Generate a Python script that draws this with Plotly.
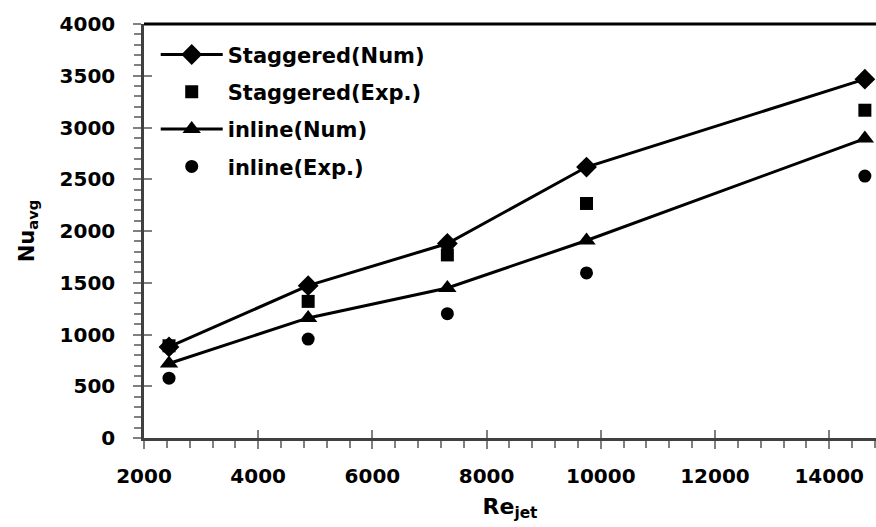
import plotly.graph_objects as go

re_jet = [2438, 4875, 7313, 9750, 14625]
stag_num = [880, 1472, 1879, 2618, 3467]
stag_exp = [891, 1320, 1769, 2266, 3167]
inl_num = [720, 1160, 1450, 1908, 2893]
inl_exp = [578, 956, 1201, 1595, 2531]

FONT = "DejaVu Sans"
fig = go.Figure()
fig.add_trace(go.Scatter(x=re_jet, y=stag_num, mode="lines+markers", name="<b>Staggered(Num)</b>",
                         line=dict(color="black", width=3),
                         marker=dict(symbol="diamond", size=16, color="black"), legendgroup="a"))
fig.add_trace(go.Scatter(x=re_jet, y=stag_exp, mode="markers", name="<b>Staggered(Exp.)</b>",
                         marker=dict(symbol="square", size=13, color="black"), legendgroup="b"))
fig.add_trace(go.Scatter(x=re_jet, y=inl_num, mode="lines+markers", name="<b>inline(Num)</b>",
                         line=dict(color="black", width=3),
                         marker=dict(symbol="triangle-up", size=16, color="black"), legendgroup="c"))
fig.add_trace(go.Scatter(x=re_jet, y=inl_exp, mode="markers", name="<b>inline(Exp.)</b>",
                         marker=dict(symbol="circle", size=13, color="black"), legendgroup="d"))
# invisible trace for overlay axes (inside major ticks)
fig.add_trace(go.Scatter(x=[re_jet[0]], y=[stag_num[0]], xaxis="x2", yaxis="y2", mode="markers",
                         marker=dict(opacity=0), showlegend=False, hoverinfo="skip"))

XR = [2000, 14820]
YR = [0, 4000]
tickfont = dict(family=FONT, size=20, color="black", weight="bold")
fig.update_layout(
    width=876, height=527,
    margin=dict(l=144, r=0, t=24, b=89),
    plot_bgcolor="white", paper_bgcolor="white",
    showlegend=True,
    legend=dict(x=0.016, y=0.975, xanchor="left", yanchor="top",
                font=dict(family=FONT, size=21, color="black"),
                bgcolor="rgba(0,0,0,0)", tracegroupgap=7, traceorder="grouped",
                itemwidth=62),
    xaxis=dict(range=XR, dtick=2000, tick0=2000, tickformat="d", ticks="outside", ticklen=8, tickwidth=2,
               tickcolor="#808080", showgrid=False, zeroline=False,
               showline=True, linecolor="#404040", linewidth=2.5,
               tickfont=tickfont, ticklabelstandoff=10,
               minor=dict(dtick=400, tick0=2000, ticks="outside", ticklen=7, tickwidth=2, tickcolor="#808080"),
               title=dict(text="<b>Re<sub>jet</sub></b>", font=dict(family=FONT, size=22, color="black"), standoff=12)),
    yaxis=dict(range=YR, dtick=500, tickformat="d", ticks="outside", ticklen=8, tickwidth=2,
               tickcolor="#808080", showgrid=False, zeroline=False,
               showline=True, linecolor="#404040", linewidth=2.5,
               tickfont=tickfont, ticklabelstandoff=14,
               minor=dict(dtick=100, ticks="outside", ticklen=7, tickwidth=2, tickcolor="#808080"),
               title=dict(text="<b>Nu<sub>avg</sub></b>", font=dict(family=FONT, size=21, color="black"), standoff=20)),
    xaxis2=dict(range=XR, overlaying="x", dtick=2000, tick0=2000, ticks="inside", ticklen=8, tickwidth=2,
                tickcolor="#808080", showticklabels=False, showgrid=False, zeroline=False, showline=False),
    yaxis2=dict(range=YR, overlaying="y", dtick=500, ticks="inside", ticklen=8, tickwidth=2,
                tickcolor="#808080", showticklabels=False, showgrid=False, zeroline=False, showline=False),
    shapes=[dict(type="line", xref="paper", yref="paper", x0=0, x1=1, y0=1, y1=1,
                 line=dict(color="black", width=3))],
)
fig.write_html("out.html")
